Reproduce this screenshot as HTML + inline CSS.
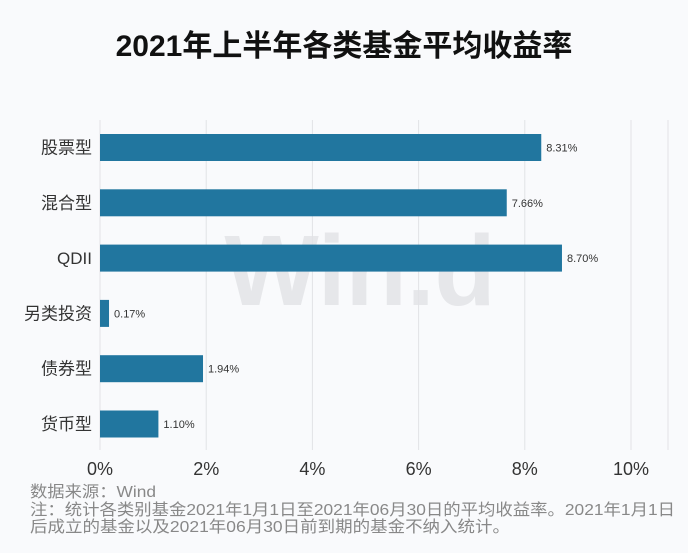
<!DOCTYPE html>
<html><head><meta charset="utf-8"><style>
body{margin:0;width:688px;height:548px;background:#f9fafc;overflow:hidden;font-family:"Liberation Sans","Noto Sans CJK SC",sans-serif}
</style></head><body>
<svg width="688" height="548" xmlns="http://www.w3.org/2000/svg">
<rect width="688" height="548" fill="#f9fafc"/>
<text x="344" y="56" text-anchor="middle" font-size="30" font-weight="bold" fill="#111" font-family="Liberation Sans,Noto Sans CJK SC,sans-serif">2021年上半年各类基金平均收益率</text>
<text x="360" y="305" text-anchor="middle" font-size="100" font-weight="bold" fill="#e6e7ea" font-family="Liberation Sans,sans-serif">Win.d</text>
<g id="grid"></g><g id="bars"></g><g id="labels"></g>
<line x1="668" y1="120" x2="668" y2="450" stroke="#e2e3e6"/>
<text x="30" y="497" font-size="16" fill="#888" textLength="126" lengthAdjust="spacingAndGlyphs" font-family="Liberation Sans,Noto Sans CJK SC,sans-serif">数据来源：Wind</text>
<text x="30" y="515" font-size="16" fill="#888" textLength="645" lengthAdjust="spacingAndGlyphs" font-family="Liberation Sans,Noto Sans CJK SC,sans-serif">注：统计各类别基金2021年1月1日至2021年06月30日的平均收益率。2021年1月1日</text>
<text x="30" y="532" font-size="16" fill="#888" textLength="480" lengthAdjust="spacingAndGlyphs" font-family="Liberation Sans,Noto Sans CJK SC,sans-serif">后成立的基金以及2021年06月30日前到期的基金不纳入统计。</text>
</svg>
<script>
const categories=["股票型","混合型","QDII","另类投资","债券型","货币型"];
const values=[8.31,7.66,8.70,0.17,1.94,1.10];
const valueLabels=["8.31%","7.66%","8.70%","0.17%","1.94%","1.10%"];
const ticks=[0,2,4,6,8,10];
const NS="http://www.w3.org/2000/svg";
const x=v=>100+v*53.1;
const y=i=>147.5+i*55.3;
function mk(t,a,p){const e=document.createElementNS(NS,t);for(const k in a)e.setAttribute(k,a[k]);p.appendChild(e);return e;}
const g=document.getElementById('grid'),b=document.getElementById('bars'),l=document.getElementById('labels');
ticks.forEach(t=>{
 const ln=mk('line',{x1:x(t),x2:x(t),y1:120,y2:450,stroke:'#e2e3e6'},g);
 
 
 const tx=mk('text',{x:x(t),y:475,'text-anchor':'middle','font-size':18,fill:'#333'},g);
 tx.textContent=t+'%';
 
 
});
categories.forEach((c,i)=>{
 const r=mk('rect',{x:x(0),y:y(i)-13.5,width:x(values[i])-x(0),height:27,fill:'#21769f'},b);
 
 
 const v=mk('text',{x:x(values[i])+5,y:y(i)+4,'font-size':11,fill:'#333'},l);
 v.textContent=valueLabels[i];
 
 
 const ct=mk('text',{x:92,y:y(i)+6,'text-anchor':'end','font-size':17,fill:'#333'},l);
 ct.textContent=c;
 
 
});
</script>
</body></html>
